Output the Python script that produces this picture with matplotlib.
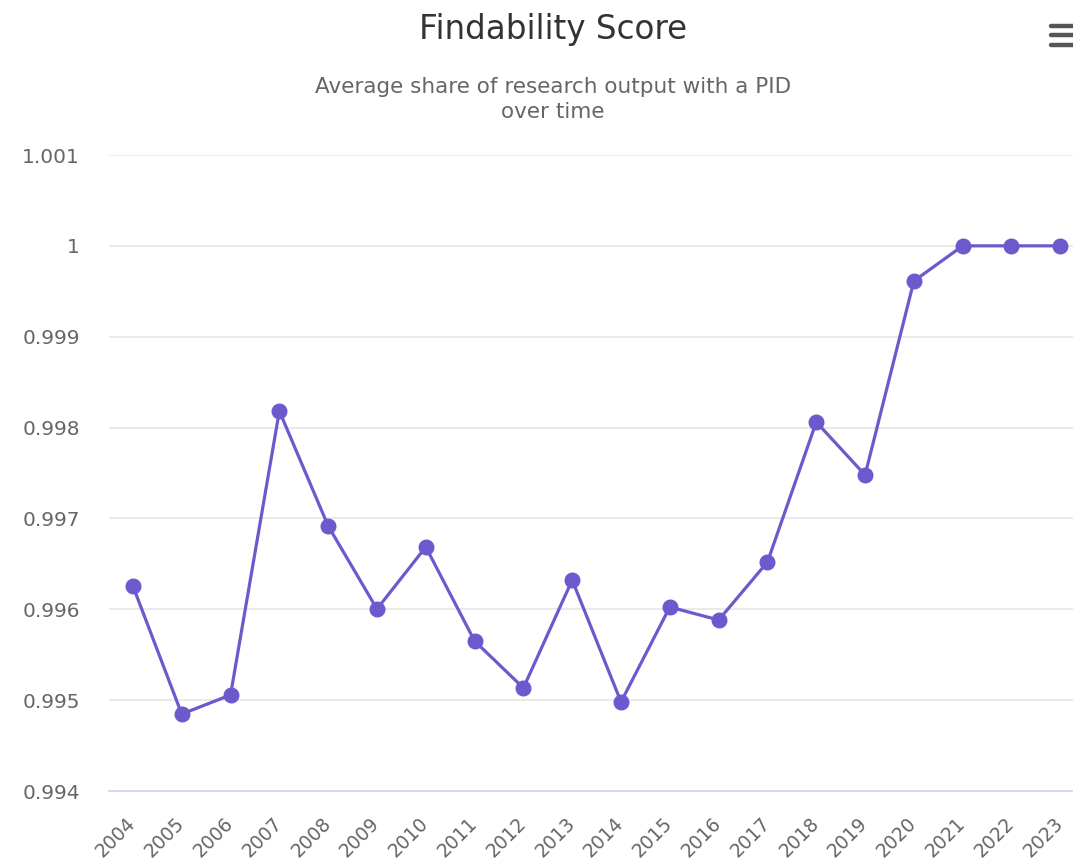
import matplotlib.pyplot as plt
from matplotlib.lines import Line2D
from matplotlib.transforms import ScaledTranslation

plt.rcParams['font.family'] = ['DejaVu Sans']

years = ['2004', '2005', '2006', '2007', '2008', '2009', '2010', '2011', '2012', '2013',
         '2014', '2015', '2016', '2017', '2018', '2019', '2020', '2021', '2022', '2023']
scores = [0.996256, 0.994847, 0.995057, 0.998182, 0.996917, 0.996003, 0.996686, 0.995651,
          0.995134, 0.996322, 0.994980, 0.996025, 0.995882, 0.996520, 0.998061, 0.997478,
          0.999613, 1.0, 1.0, 1.0]
yticks = [0.994, 0.995, 0.996, 0.997, 0.998, 0.999, 1.0, 1.001]
ytick_labels = ['0.994', '0.995', '0.996', '0.997', '0.998', '0.999', '1', '1.001']

W, H = 1073, 859
fig = plt.figure(figsize=(W / 100, H / 100), dpi=100)
ax = fig.add_axes([109 / W, 1 - 791 / H, 1 - 109 / W, (791 - 155) / H])

x = list(range(len(years)))
ax.plot(x, scores, color='#6a5acd', lw=2.3, marker='o', ms=10.5, zorder=3, clip_on=False)

ax.set_xlim(-0.49, 19.26)
ax.set_ylim(0.994, 1.001)
ax.set_yticks(yticks)
ax.set_yticklabels(ytick_labels)
ax.set_xticks(x)
ax.set_xticklabels(years, rotation=45, ha='right', rotation_mode='anchor')

ax.grid(axis='y', color='#e6e6e6', lw=1.2)
ax.set_axisbelow(True)
for s in ['top', 'right', 'left']:
    ax.spines[s].set_visible(False)
ax.spines['bottom'].set_color('#ccd6eb')
ax.spines['bottom'].set_linewidth(1.2)
ax.tick_params(axis='y', length=0, pad=21, labelsize=14.5, labelcolor='#666666')
ax.tick_params(axis='x', length=0, pad=9, labelsize=13.5, labelcolor='#666666')

shift = ScaledTranslation(-7 / 100, -10 / 100, fig.dpi_scale_trans)
for lab in ax.get_xticklabels():
    lab.set_transform(lab.get_transform() + shift)

fig.text(553 / W, 1 - 29 / H, 'Findability Score', ha='center', va='center',
         fontsize=23.5, color='#333333')
fig.text(553 / W, 1 - 99.5 / H, 'Average share of research output with a PID\nover time',
         ha='center', va='center', fontsize=15.5, color='#666666', linespacing=1.3)

# menu icon
for yy in [25.5, 35, 44.5]:
    fig.add_artist(Line2D([1051 / W, 1075 / W], [1 - yy / H, 1 - yy / H],
                          color='#555555', lw=3.2, solid_capstyle='round'))

fig.savefig('out.png', dpi=100)
